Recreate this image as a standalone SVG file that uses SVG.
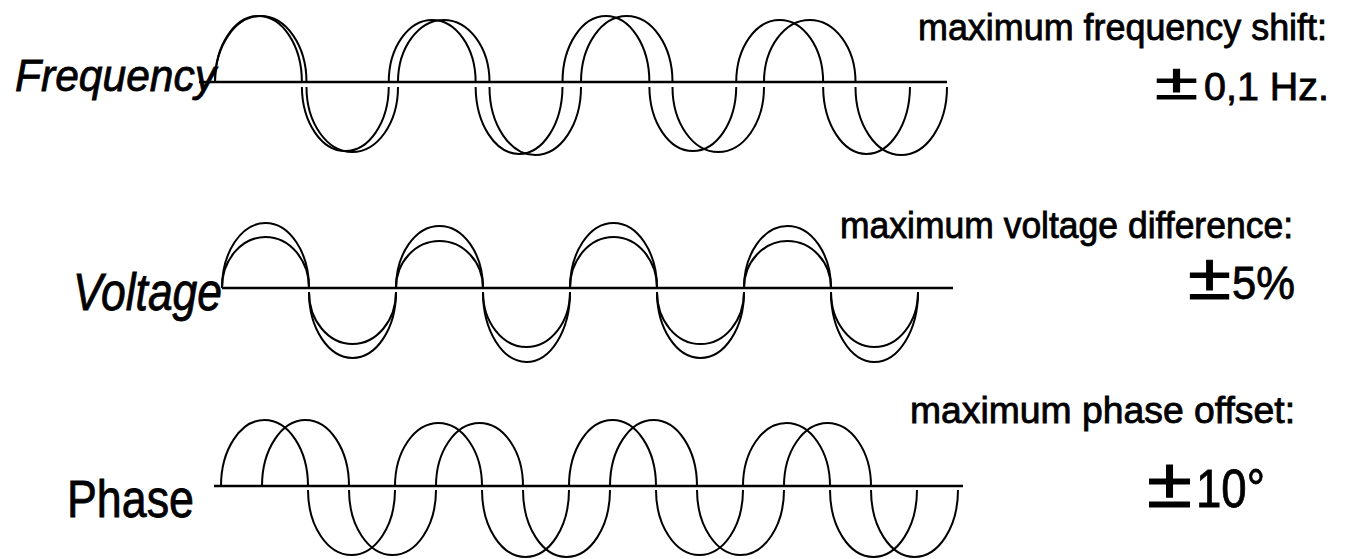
<svg xmlns="http://www.w3.org/2000/svg" width="1354" height="559" viewBox="0 0 1354 559">
<style>
.axis{stroke:#000;stroke-width:2.6;fill:none}
.wave{stroke:#000;stroke-width:2;fill:none}
.lbl{font-family:"Liberation Sans",Arial,sans-serif;fill:#000;stroke:#000;stroke-width:0.8}
.it{font-style:italic}
.spec{font-family:"Liberation Sans",Arial,sans-serif;fill:#000;stroke:#000;stroke-width:0.8}
.pm{stroke-width:1}
</style>
<rect width="1354" height="559" fill="#fff"/>
<g id="frequency">
<text class="lbl it" x="15" y="91" style="font-size:45px" textLength="201" lengthAdjust="spacingAndGlyphs">Frequency</text>
<line class="axis" x1="199" y1="82" x2="947" y2="82"/>
<path class="wave" d="M215,82 A43.44,66 0 0 1 301.88,82 M301.88,87 A43.44,65 0 0 0 388.75,87 M388.75,82 A43.44,62 0 0 1 475.63,82 M475.63,87 A43.44,68 0 0 0 562.5,87 M562.5,82 A43.44,66 0 0 1 649.38,82 M649.38,87 A43.44,65 0 0 0 736.25,87 M736.25,82 A43.44,62 0 0 1 823.13,82 M823.13,87 A43.44,68 0 0 0 910,87"/>
<path class="wave" d="M215,82 A45.75,66 0 0 1 306.5,82 M306.5,87 A45.75,65 0 0 0 398,87 M398,82 A45.75,62 0 0 1 489.5,82 M489.5,87 A45.75,68 0 0 0 581,87 M581,82 A45.75,66 0 0 1 672.5,82 M672.5,87 A45.75,65 0 0 0 764,87 M764,82 A45.75,62 0 0 1 855.5,82 M855.5,87 A45.75,68 0 0 0 947,87"/>
<text class="spec" x="918" y="40" style="font-size:36px" textLength="409" lengthAdjust="spacingAndGlyphs">maximum frequency shift:</text>
<text class="spec pm" x="1155" y="99" style="font-size:50px" textLength="43" lengthAdjust="spacingAndGlyphs">±</text>
<text class="spec" x="1204" y="100" style="font-size:38px" textLength="125" lengthAdjust="spacingAndGlyphs">0,1 Hz.</text>
</g>
<g id="voltage">
<text class="lbl it" x="73" y="310" style="font-size:51px" textLength="149" lengthAdjust="spacingAndGlyphs">Voltage</text>
<line class="axis" x1="222" y1="288" x2="953" y2="288"/>
<path class="wave" d="M222,288 A43.5,65 0 0 1 309,288 M309,292 A43.5,66 0 0 0 396,292 M396,288 A43.5,62 0 0 1 483,288 M483,292 A43.5,70 0 0 0 570,292 M570,288 A43.5,65 0 0 1 657,288 M657,292 A43.5,66 0 0 0 744,292 M744,288 A43.5,62 0 0 1 831,288 M831,292 A43.5,70 0 0 0 918,292"/>
<path class="wave" d="M222,288 A43.5,51 0 0 1 309,288 M309,292 A43.5,52 0 0 0 396,292 M396,288 A43.5,47 0 0 1 483,288 M483,292 A43.5,55 0 0 0 570,292 M570,288 A43.5,51 0 0 1 657,288 M657,292 A43.5,52 0 0 0 744,292 M744,288 A43.5,47 0 0 1 831,288 M831,292 A43.5,55 0 0 0 918,292"/>
<text class="spec" x="840" y="238" style="font-size:36px" textLength="453" lengthAdjust="spacingAndGlyphs">maximum voltage difference:</text>
<text class="spec pm" x="1188" y="299" style="font-size:64px" textLength="43" lengthAdjust="spacingAndGlyphs">±</text>
<text class="spec" x="1232" y="299" style="font-size:46px" textLength="63" lengthAdjust="spacingAndGlyphs">5%</text>
</g>
<g id="phase">
<text class="lbl" x="67" y="517" style="font-size:51px" textLength="127" lengthAdjust="spacingAndGlyphs">Phase</text>
<line class="axis" x1="214" y1="486" x2="963" y2="486"/>
<path class="wave" d="M221,486 A43.5,66 0 0 1 308,486 M308,490 A43.5,65 0 0 0 395,490 M395,486 A43.5,63 0 0 1 482,486 M482,490 A43.5,67 0 0 0 569,490 M569,486 A43.5,66 0 0 1 656,486 M656,490 A43.5,65 0 0 0 743,490 M743,486 A43.5,63 0 0 1 830,486 M830,490 A43.5,67 0 0 0 917,490"/>
<path class="wave" d="M262,486 A43.5,66 0 0 1 349,486 M349,490 A43.5,65 0 0 0 436,490 M436,486 A43.5,63 0 0 1 523,486 M523,490 A43.5,67 0 0 0 610,490 M610,486 A43.5,66 0 0 1 697,486 M697,490 A43.5,65 0 0 0 784,490 M784,486 A43.5,63 0 0 1 871,486 M871,490 A43.5,67 0 0 0 958,490"/>
<text class="spec" x="910" y="423" style="font-size:36px" textLength="385" lengthAdjust="spacingAndGlyphs">maximum phase offset:</text>
<text class="spec pm" x="1147" y="507" style="font-size:70px" textLength="45" lengthAdjust="spacingAndGlyphs">±</text>
<text class="spec" x="1196" y="507" style="font-size:53px" textLength="69" lengthAdjust="spacingAndGlyphs">10°</text>
</g>
</svg>
